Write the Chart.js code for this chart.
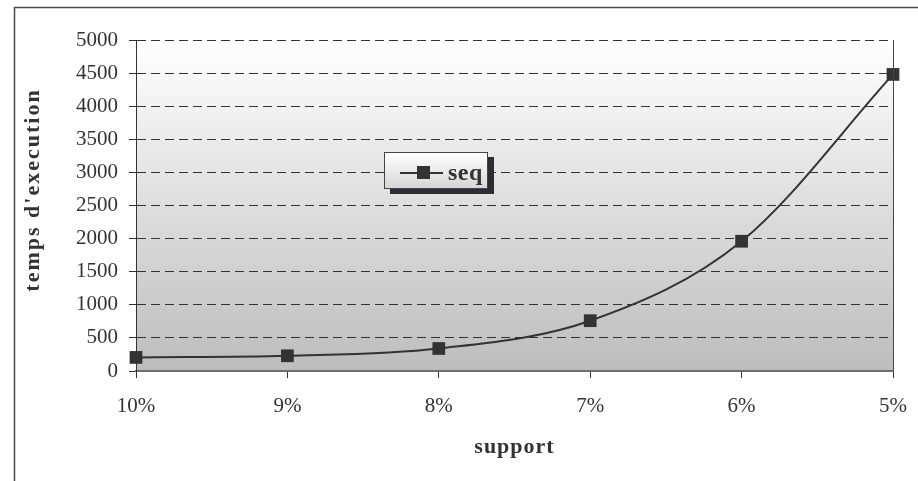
<!DOCTYPE html>
<html>
<head>
<meta charset="utf-8">
<script src="https://cdn.jsdelivr.net/npm/chart.js@4/dist/chart.umd.min.js"></script>
<style>
  html, body { margin: 0; padding: 0; background: #fff; }
  #wrap { position: relative; width: 918px; height: 481px; }
  canvas { display: block; }
  #legend {
    position: absolute; left: 384px; top: 152px; width: 104px; height: 37px;
    box-sizing: border-box; border: 1px solid #444;
    background: linear-gradient(#ffffff, #d6d6d6);
    box-shadow: 6px 5px 0 #2c2c32;
    font-family: "Liberation Serif", serif; font-weight: bold; font-size: 24px; color: #333;
  }
  #legend .ln { position: absolute; left: 15px; top: 19px; width: 43px; height: 2px; background: #333; }
  #legend .mk { position: absolute; left: 32px; top: 13px; width: 13px; height: 13px; background: #333; }
  #legend .tx { position: absolute; left: 63px; top: 6px; line-height: 26px; letter-spacing: 0.5px; }
</style>
</head>
<body>
<div id="wrap">
  <canvas id="c" width="918" height="481"></canvas>
  <div id="legend"><span class="ln"></span><span class="mk"></span><span class="tx" id="legendText"></span></div>
</div>
<script>
const categories = ['10%', '9%', '8%', '7%', '6%', '5%'];
const seriesName = 'seq';
const seqValues = [205, 230, 340, 760, 1960, 4480];
const yTicks = [0, 500, 1000, 1500, 2000, 2500, 3000, 3500, 4000, 4500, 5000];
const xTitle = 'support';
const yTitle = "temps d'execution";

const FONT = '"Liberation Serif", "Times New Roman", serif';

// Frame, plot background gradient and plot right edge
const decor = {
  id: 'decor',
  beforeDraw(chart) {
    const { ctx, chartArea: a } = chart;
    ctx.save();
    ctx.fillStyle = '#fff';
    ctx.fillRect(0, 0, chart.width, chart.height);
    ctx.strokeStyle = '#4a4a4a';
    ctx.lineWidth = 1.5;
    ctx.strokeRect(14.5, 7.5, chart.width + 10, chart.height + 10);
    const g = ctx.createLinearGradient(0, a.top, 0, a.bottom);
    g.addColorStop(0, '#ffffff');
    g.addColorStop(1, '#bdbdbd');
    ctx.fillStyle = g;
    ctx.fillRect(a.left, a.top, a.right - a.left, a.bottom - a.top);
    ctx.restore();
  },
  afterDraw(chart) {
    const { ctx, chartArea: a } = chart;
    ctx.save();
    ctx.strokeStyle = '#444';
    ctx.lineWidth = 1;
    ctx.beginPath();
    ctx.moveTo(a.right + 0.5, a.top);
    ctx.lineTo(a.right + 0.5, a.bottom);
    ctx.stroke();
    // axis titles
    ctx.fillStyle = '#333';
    ctx.textAlign = 'center';
    ctx.textBaseline = 'middle';
    ctx.font = 'bold 22px ' + FONT;
    ctx.letterSpacing = '1px';
    ctx.fillText(xTitle, (a.left + a.right) / 2, 447);
    ctx.letterSpacing = '2px';
    ctx.translate(33, 190);
    ctx.rotate(-Math.PI / 2);
    ctx.fillText(yTitle, 0, 0);
    ctx.restore();
  }
};

document.getElementById('legendText').textContent = seriesName;

new Chart(document.getElementById('c'), {
  type: 'line',
  data: {
    labels: categories,
    datasets: [{
      label: seriesName,
      data: seqValues,
      borderColor: '#333',
      borderWidth: 2,
      cubicInterpolationMode: 'monotone',
      pointStyle: 'rect',
      pointRadius: 9,
      pointBackgroundColor: '#333',
      pointBorderColor: '#333',
      pointBorderWidth: 0
    }]
  },
  options: {
    responsive: false,
    animation: false,
    events: [],
    layout: { padding: { left: 14, top: 40, right: 25, bottom: 0 } },
    plugins: { legend: { display: false }, tooltip: { enabled: false } },
    scales: {
      x: {
        offset: false,
        grid: { drawOnChartArea: false, color: '#333', tickLength: 7, lineWidth: 1 },
        border: { color: '#6e6e6e', width: 2 },
        ticks: { color: '#333', font: { family: FONT, size: 21 }, padding: 16, maxRotation: 0 },
        afterFit(s) { s.height = 110; s.paddingLeft = 0; s.paddingRight = 0; }
      },
      y: {
        min: 0, max: 5000,
        afterBuildTicks(s) { s.ticks = yTicks.map(v => ({ value: v })); },
        grid: { color: '#333', tickBorderDash: [], tickLength: 7, lineWidth: 1 },
        border: { color: '#333', width: 1, dash: [9, 5] },
        ticks: { color: '#333', font: { family: FONT, size: 21 }, padding: 11, callback: v => String(v) },
        afterFit(s) { s.width = 122; s.paddingTop = 0; s.paddingBottom = 0; }
      }
    }
  },
  plugins: [decor]
});
</script>
</body>
</html>
